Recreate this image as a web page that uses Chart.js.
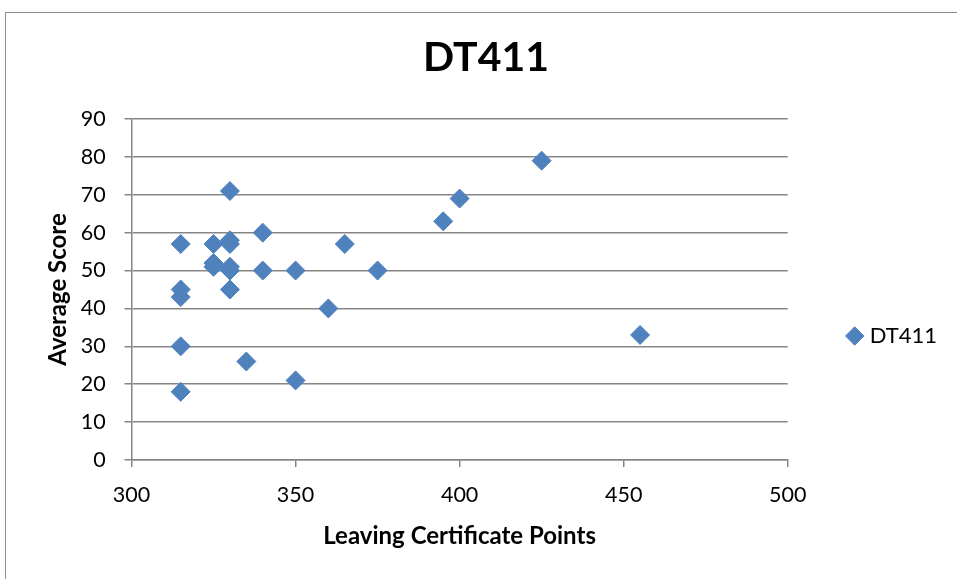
<!DOCTYPE html>
<html>
<head>
<meta charset="utf-8">
<script src="https://cdn.jsdelivr.net/npm/chart.js@4.4.1/dist/chart.umd.min.js"></script>
<style>
  html, body { margin: 0; padding: 0; background: #ffffff; overflow: hidden; }
  #wrap { position: relative; width: 957px; height: 579px; }
  #frame { position: absolute; left: 5px; top: 12px; width: 1000px; height: 1000px;
           border: 1.5px solid #8c8c8c; box-sizing: border-box; }
  canvas { position: absolute; left: 0; top: 0; }
</style>
</head>
<body>
<div id="wrap">
  <div id="frame"></div>
  <canvas id="chart" width="957" height="579"></canvas>
</div>
<script>
// Leaving Certificate points vs. average score for DT411 students
const leavingCertPoints = [315, 315, 315, 315, 315, 325, 325, 325, 330, 330, 330, 330, 330, 330, 335, 340, 340, 350, 350, 360, 365, 375, 395, 400, 425, 455];
const averageScores     = [57,  45,  43,  30,  18,  57,  52,  51,  71,  58,  57,  51,  50,  45,  26,  60,  50,  50,  21,  40,  57,  50,  63,  69,  79,  33];
const seriesName = 'DT411';
const xRange = [300, 500, 50];
const yRange = [0, 90, 10];

const FONT = 'Lato, "Liberation Sans", sans-serif';
const GRID = '#868686';
const MARKER = '#4f81bd';

const points = leavingCertPoints.map((x, i) => ({ x, y: averageScores[i] }));

new Chart(document.getElementById('chart'), {
  type: 'scatter',
  data: {
    datasets: [{
      label: seriesName,
      data: points,
      pointStyle: 'rectRot',
      pointRadius: 9.5,
      pointHoverRadius: 9.5,
      pointBorderWidth: 1,
      backgroundColor: MARKER,
      borderColor: MARKER
    }]
  },
  options: {
    responsive: false,
    animation: false,
    events: [],
    // negative bottom padding lets the legend column centre lower than the plot
    layout: { padding: { left: 25, right: 10, top: 0, bottom: -93 } },
    plugins: {
      tooltip: { enabled: false },
      title: {
        display: true,
        text: seriesName,
        color: '#000000',
        font: { family: FONT, size: 41, weight: 'bold', lineHeight: 1.2 },
        padding: { top: 33, bottom: 36.8 }
      },
      legend: {
        position: 'right',
        align: 'center',
        labels: {
          usePointStyle: true,
          boxWidth: 8,
          boxHeight: 13,
          padding: 63,
          color: '#000000',
          font: { family: FONT, size: 22 }
        }
      }
    },
    scales: {
      x: {
        type: 'linear',
        position: 'bottom',
        min: xRange[0], max: xRange[1],
        ticks: { stepSize: xRange[2], color: '#000000', padding: 15,
                 font: { family: FONT, size: 21.5 } },
        grid: { drawOnChartArea: false, drawTicks: true, tickLength: 7, color: GRID, lineWidth: 1.5 },
        border: { display: true, color: GRID, width: 1.5 },
        title: {
          display: true,
          text: 'Leaving Certificate Points',
          color: '#000000',
          font: { family: FONT, size: 24, weight: 'bold', lineHeight: 1.2 },
          padding: { top: 0, bottom: 121.6 }
        },
        afterFit: (scale) => { scale.height = 212; }
      },
      y: {
        type: 'linear',
        min: yRange[0], max: yRange[1],
        ticks: { stepSize: yRange[2], color: '#000000', padding: 18.8,
                 font: { family: FONT, size: 21.5 } },
        grid: { drawTicks: true, tickLength: 7, color: GRID, lineWidth: 1.5 },
        border: { display: true, color: GRID, width: 1.5 },
        title: {
          display: true,
          text: 'Average Score',
          color: '#000000',
          font: { family: FONT, size: 24, weight: 'bold', lineHeight: 1.2 },
          padding: { top: 18.6, bottom: 0 }
        },
        afterFit: (scale) => { scale.width = 106.5; }
      }
    }
  }
});
</script>
</body>
</html>
